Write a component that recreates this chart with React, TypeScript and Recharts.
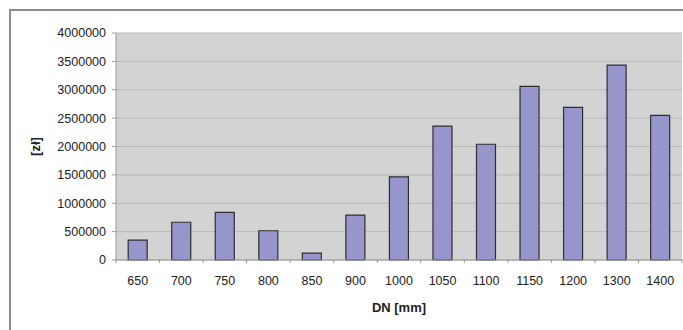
import { Bar, BarChart, CartesianGrid, XAxis, YAxis } from 'recharts'

const categories = ['650', '700', '750', '800', '850', '900', '1000', '1050', '1100', '1150', '1200', '1300', '1400']
const costs = [350000, 665000, 840000, 515000, 120000, 790000, 1465000, 2360000, 2040000, 3060000, 2690000, 3435000, 2550000]
const yTicks = [0, 500000, 1000000, 1500000, 2000000, 2500000, 3000000, 3500000, 4000000]

const data = categories.map((dn, i) => ({ dn, cost: costs[i] }))

const FONT = '"Liberation Sans", Arial, sans-serif'
const BAR_FILL = '#9696cd'
const PLOT_BG = '#d3d3d3'

function XTick(props: any) {
  const { x, y, payload, index, width } = props
  const band = (width ?? 566) / categories.length
  const right = x + band / 2
  return (
    <g>
      <line x1={right} x2={right} y1={y - 9} y2={y - 5} stroke="#9a9a9a" />
      {index === 0 && <line x1={x - band / 2} x2={x - band / 2} y1={y - 9} y2={y - 5} stroke="#9a9a9a" />}
      <text x={x} y={y + 17} textAnchor="middle" fontSize={12.5} fill="#222" fontFamily={FONT}>
        {payload.value}
      </text>
    </g>
  )
}

function YTitle(props: any) {
  const vb = props.viewBox
  const cx = vb.x + 35
  const cy = vb.y + vb.height / 2
  return (
    <text
      x={cx}
      y={cy}
      transform={`rotate(-90, ${cx}, ${cy})`}
      textAnchor="middle"
      dominantBaseline="central"
      fontSize={13}
      fontWeight="bold"
      fill="#222"
      fontFamily={FONT}
    >
      [zł]
    </text>
  )
}

function XTitle(props: any) {
  const vb = props.viewBox
  return (
    <text
      x={vb.x + vb.width / 2}
      y={vb.y + 47}
      textAnchor="middle"
      dominantBaseline="central"
      fontSize={13}
      fontWeight="bold"
      fill="#222"
      fontFamily={FONT}
    >
      DN [mm]
    </text>
  )
}

export default function App() {
  return (
    <div style={{ position: 'fixed', left: 0, top: 0, width: 683, height: 330, overflow: 'hidden', background: '#fff' }}>
      <div
        style={{
          position: 'absolute',
          left: 9,
          top: 9,
          width: 720,
          height: 400,
          border: '2px solid #8c8c8c',
        }}
      />
      <div style={{ position: 'absolute', left: 0, top: 0 }}>
        <BarChart
          width={683}
          height={330}
          data={data}
          margin={{ top: 33, right: 1, bottom: 0, left: 0 }}
          barCategoryGap="28%"
        >
          <CartesianGrid vertical={false} fill={PLOT_BG} stroke="#b8b8b8" />
          <XAxis
            dataKey="dn"
            height={70}
            axisLine={{ stroke: '#9a9a9a' }}
            tickLine={false}
            tick={<XTick />}
            interval={0}
            label={<XTitle />}
          />
          <YAxis
            width={116}
            domain={[0, 4000000]}
            ticks={yTicks}
            interval={0}
            axisLine={{ stroke: '#9a9a9a' }}
            tickLine={{ stroke: '#9a9a9a' }}
            tickSize={4}
            tickMargin={6}
            tick={{ fontSize: 12.5, fill: '#222', fontFamily: FONT }}
            label={<YTitle />}
          />
          <Bar dataKey="cost" fill={BAR_FILL} stroke="#2e2e2e" strokeWidth={1.2} isAnimationActive={false} />
        </BarChart>
      </div>
    </div>
  )
}
